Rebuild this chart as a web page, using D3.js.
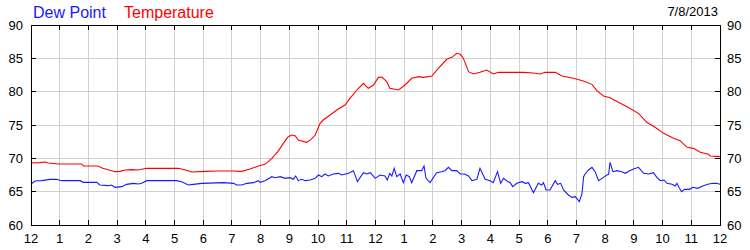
<!DOCTYPE html>
<html>
<head>
<meta charset="utf-8">
<script src="https://cdn.jsdelivr.net/npm/d3@7"></script>
<style>
  html, body { margin: 0; padding: 0; background: #fff; }
  svg { display: block; font-family: "Liberation Sans", Arial, sans-serif; }
</style>
</head>
<body>
<svg id="chart" width="750" height="250"></svg>
<script>
// Daily temperature / dew point plot, 7/8/2013

const chartDate = '7/8/2013';
const hourLabels = ['12','1','2','3','4','5','6','7','8','9','10','11',
                    '12','1','2','3','4','5','6','7','8','9','10','11','12'];
const yTicks = [60, 65, 70, 75, 80, 85, 90];

// hours since midnight / degrees F
const tempHours = [0,0.3,0.5,0.6,0.95,1.77,1.82,2.33,2.5,2.93,3.1,3.28,3.5,3.73,4.03,5.13,5.35,5.6,6.06,6.5,7,7.34,7.63,7.92,8.15,8.39,8.6,8.79,8.95,9.08,9.2,9.31,9.6,9.75,9.9,10.07,10.18,10.42,10.65,10.94,11.11,11.35,11.58,11.75,11.93,12.1,12.22,12.39,12.5,12.8,13.03,13.26,13.5,13.67,13.96,14.19,14.48,14.66,14.83,14.95,15.05,15.24,15.41,15.64,15.88,16.1,16.28,16.8,17.15,17.5,17.74,17.91,18.26,18.49,18.9,19.24,19.54,19.71,19.94,20.17,20.46,20.76,21.16,21.45,21.74,22.03,22.38,22.61,22.85,23.08,23.31,23.6,23.66,24];
const tempValues = [69.3,69.35,69.45,69.3,69.15,69.15,68.85,68.85,68.5,68,68.05,68.25,68.3,68.25,68.5,68.5,68.3,67.95,68.05,68.1,68.1,68.05,68.4,68.85,69.1,70,71,72.25,73.2,73.5,73.4,72.75,72.4,72.8,73.5,75.25,75.75,76.5,77.25,78,79,80.25,81.25,80.5,81,82.15,82.2,81.5,80.5,80.25,81,82,82.25,82.15,82.35,83.5,84.85,85.15,85.75,85.6,85.1,83,82.65,82.9,83.25,82.65,82.9,82.9,82.9,82.8,82.65,82.9,82.9,82.35,82,81.6,81.1,80.15,79.35,79.1,78.4,77.75,76.75,75.4,74.65,73.75,73,72.65,71.65,71.5,70.9,70.6,70.35,70.25];

const dewHours = [0,0.14,0.37,0.66,0.89,1.07,1.71,1.82,2.29,2.4,2.69,2.8,2.93,3.16,3.33,3.57,3.74,3.86,4.03,5.07,5.25,5.48,5.65,5.95,6.7,7.05,7.17,7.34,7.52,7.75,7.92,7.98,8.15,8.39,8.5,8.68,8.85,9.02,9.14,9.22,9.31,9.43,9.55,9.72,9.9,10.01,10.13,10.24,10.36,10.53,10.71,10.82,11.06,11.23,11.37,11.58,11.7,11.82,11.99,12.16,12.33,12.41,12.5,12.57,12.65,12.74,12.86,12.97,13.07,13.18,13.26,13.44,13.61,13.69,13.76,13.9,14.13,14.31,14.42,14.54,14.66,14.83,14.95,15.1,15.24,15.36,15.53,15.64,15.82,15.99,16.1,16.25,16.36,16.46,16.57,16.69,16.78,16.92,17.1,17.22,17.33,17.5,17.67,17.79,17.85,17.94,18.08,18.26,18.34,18.45,18.55,18.72,18.84,18.96,19.01,19.1,19.19,19.25,19.3,19.42,19.54,19.65,19.77,19.94,20.06,20.12,20.17,20.27,20.41,20.58,20.7,20.85,20.99,21.16,21.34,21.51,21.68,21.8,21.92,22.05,22.15,22.33,22.44,22.5,22.57,22.66,22.77,22.94,23.05,23.22,23.4,23.57,23.75,23.87,24];
const dewValues = [66.15,66.6,66.65,66.85,66.85,66.65,66.65,66.4,66.4,66,65.9,66,65.65,65.75,66.1,66.25,66.15,66.25,66.65,66.65,66.5,66,66.1,66.25,66.35,66.25,66,66,66.25,66.35,66.65,66.4,66.65,67.25,67.1,67.25,67,67.1,66.85,67.35,66.65,66.85,66.65,66.75,67,67.5,67.25,67.65,67.35,67.65,67.75,67.5,67.75,68.15,66.5,67.85,67.65,67.85,67,67.5,67.35,66.75,67.75,67.35,68.5,67.25,67.65,66.35,67.5,67.25,66.35,68.15,68.15,68.85,67,66.35,67.85,68,68.15,68.65,68.15,68.15,67.65,67.65,67.35,66.65,66.85,68.5,66.85,66.65,66.35,68,66.25,67,66.65,66.35,65.75,66.25,66.5,66.25,66.35,64.85,66.25,66,66.35,65.25,65.25,66.65,66.1,66.25,65.25,64.5,64.15,64.25,64,63.5,64.65,67.25,67.65,68.25,68.65,68,66.65,67.15,67.5,67.6,69.4,68,68.15,68,67.75,68.15,68.4,68.65,67.75,67.65,67.85,67.15,66.65,66.75,66.25,66.1,65.85,66.25,65.65,65,65.35,65.35,65.65,65.5,65.85,66.1,66.25,66.25,66.1];

const svg = d3.select('#chart');
const plotLeft = 31, plotRight = 720, plotTop = 25, plotBottom = 225;

const x = d3.scaleLinear().domain([0, 24]).range([plotLeft, plotRight]);
const y = d3.scaleLinear().domain([60, 90]).range([plotBottom, plotTop]);

const hourIdx = d3.range(hourLabels.length);

// Gridlines
svg.append('g')
    .selectAll('line')
    .data(hourIdx.slice(1, -1))
    .enter()
    .append('line')
    .attr('x1', d => x(d)).attr('x2', d => x(d))
    .attr('y1', plotTop).attr('y2', plotBottom)
    .attr('stroke', '#d0d0d0')
    .attr('shape-rendering', 'crispEdges');

svg.append('g')
    .selectAll('line')
    .data(yTicks.slice(1, -1))
    .enter()
    .append('line')
    .attr('x1', plotLeft).attr('x2', plotRight)
    .attr('y1', d => y(d)).attr('y2', d => y(d))
    .attr('stroke', '#d0d0d0')
    .attr('shape-rendering', 'crispEdges');

// Series
const line = d3.line()
    .x(d => x(d[0]))
    .y(d => y(d[1]));

svg.append('path')
    .datum(tempHours.map((h, i) => [h, tempValues[i]]))
    .attr('d', line)
    .attr('fill', 'none')
    .attr('stroke', '#ff0000')
    .attr('stroke-width', 1.1);

svg.append('path')
    .datum(dewHours.map((h, i) => [h, dewValues[i]]))
    .attr('d', line)
    .attr('fill', 'none')
    .attr('stroke', '#1a1aff')
    .attr('stroke-width', 1.1);

// Frame
svg.append('rect')
    .attr('x', plotLeft).attr('y', plotTop)
    .attr('width', plotRight - plotLeft).attr('height', plotBottom - plotTop)
    .attr('fill', 'none')
    .attr('stroke', '#000')
    .attr('shape-rendering', 'crispEdges');

// Tick marks (inside the frame)
const ticks = svg.append('g')
    .attr('stroke', '#000')
    .attr('shape-rendering', 'crispEdges');

hourIdx.slice(1, -1).forEach(h => {
    ticks.append('line').attr('x1', x(h)).attr('x2', x(h)).attr('y1', plotTop).attr('y2', plotTop + 5);
    ticks.append('line').attr('x1', x(h)).attr('x2', x(h)).attr('y1', plotBottom).attr('y2', plotBottom - 5);
});
yTicks.slice(1, -1).forEach(v => {
    ticks.append('line').attr('x1', plotLeft).attr('x2', plotLeft + 5).attr('y1', y(v)).attr('y2', y(v));
    ticks.append('line').attr('x1', plotRight).attr('x2', plotRight - 5).attr('y1', y(v)).attr('y2', y(v));
});

// Axis labels
svg.append('g')
    .selectAll('text')
    .data(yTicks)
    .enter()
    .append('text')
    .attr('x', plotLeft - 8)
    .attr('y', d => y(d) + 4.5)
    .attr('text-anchor', 'end')
    .attr('font-size', '13px')
    .attr('fill', '#000')
    .text(d => d);

svg.append('g')
    .selectAll('text')
    .data(yTicks)
    .enter()
    .append('text')
    .attr('x', plotRight + 7)
    .attr('y', d => y(d) + 4.5)
    .attr('font-size', '13px')
    .attr('fill', '#000')
    .text(d => d);

svg.append('g')
    .selectAll('text')
    .data(hourIdx)
    .enter()
    .append('text')
    .attr('x', d => x(d))
    .attr('y', 243)
    .attr('text-anchor', 'middle')
    .attr('font-size', '13px')
    .attr('fill', '#000')
    .text(d => hourLabels[d]);

// Legend + date
svg.append('text')
    .attr('x', 33).attr('y', 17.5)
    .attr('font-size', '16px')
    .attr('fill', '#1a1aff')
    .text('Dew Point');

svg.append('text')
    .attr('x', 124).attr('y', 17.5)
    .attr('font-size', '16px')
    .attr('fill', '#ff0000')
    .text('Temperature');

svg.append('text')
    .attr('x', 718).attr('y', 16)
    .attr('text-anchor', 'end')
    .attr('font-size', '13px')
    .attr('fill', '#000')
    .text(chartDate);
</script>
</body>
</html>
